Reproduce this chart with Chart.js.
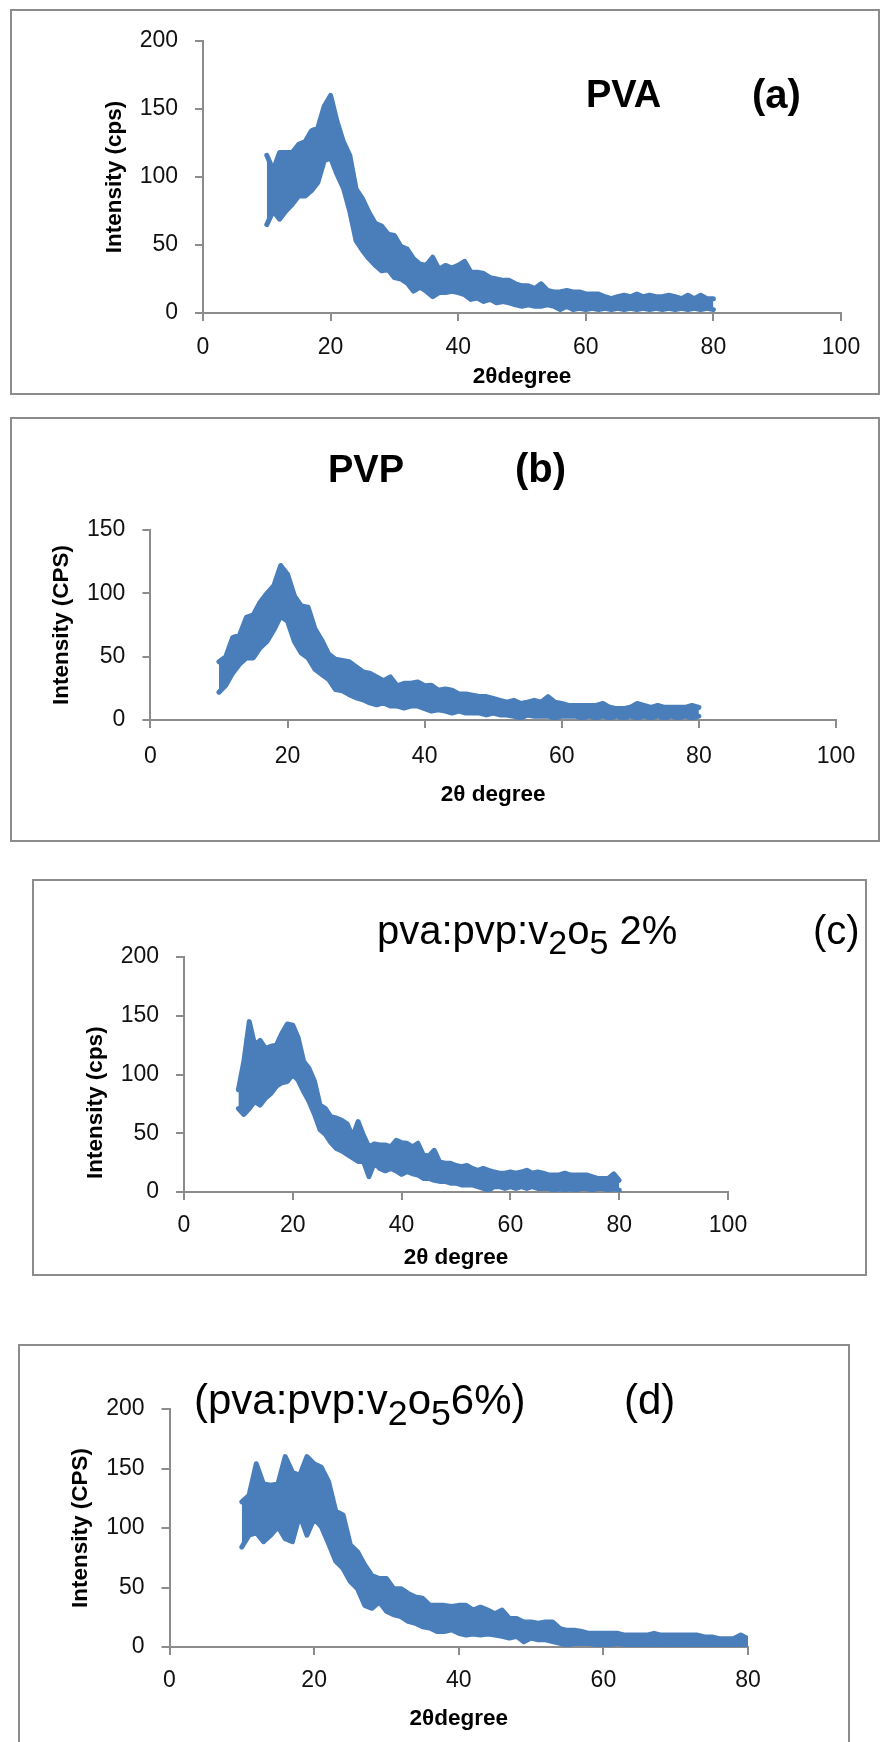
<!DOCTYPE html>
<html>
<head>
<meta charset="utf-8">
<title>XRD patterns</title>
<script src="https://cdn.jsdelivr.net/npm/chart.js@4.4.1/dist/chart.umd.min.js"></script>
<style>
  body { margin: 0; background: #fff; }
  .page { position: relative; width: 880px; height: 1742px; overflow: hidden; }
  .box { position: absolute; border: 2px solid #8c8c8c; box-sizing: border-box; }
  canvas { position: absolute; }
  .lbl { position: absolute; line-height: 1; white-space: nowrap; color: #000; }
  .bold { font-family: 'Liberation Sans', Arial, sans-serif; font-weight: bold; }
  .thin { font-family: 'Liberation Sans', Arial, sans-serif; }
  .lbl sub { font-size: 0.85em; vertical-align: -0.3em; line-height: 0; }
</style>
</head>
<body>
<div class="page">
  <!-- (a) PVA -->
  <div class="box" style="left:10px;top:9px;width:870px;height:386px"></div>
  <canvas id="chartA" width="870" height="386" style="left:10px;top:9px"></canvas>
  <div class="lbl bold" style="left:586px;top:75px;font-size:38px">PVA</div>
  <div class="lbl bold" style="left:752px;top:74px;font-size:40px">(a)</div>

  <!-- (b) PVP -->
  <div class="box" style="left:10px;top:417px;width:870px;height:425px"></div>
  <canvas id="chartB" width="870" height="425" style="left:10px;top:417px"></canvas>
  <div class="lbl bold" style="left:328px;top:450px;font-size:38px">PVP</div>
  <div class="lbl bold" style="left:515px;top:448px;font-size:40px">(b)</div>

  <!-- (c) pva:pvp:v2o5 2% -->
  <div class="box" style="left:32px;top:879px;width:835px;height:397px"></div>
  <canvas id="chartC" width="835" height="397" style="left:32px;top:879px"></canvas>
  <div class="lbl thin" style="left:377px;top:910px;font-size:40px">pva:pvp:v<sub>2</sub>o<sub>5</sub> 2%</div>
  <div class="lbl thin" style="left:813px;top:910px;font-size:40px">(c)</div>

  <!-- (d) pva:pvp:v2o5 6% -->
  <div class="box" style="left:18px;top:1344px;width:832px;height:420px"></div>
  <canvas id="chartD" width="832" height="398" style="left:18px;top:1344px"></canvas>
  <div class="lbl thin" style="left:194px;top:1379px;font-size:42px">(pva:pvp:v<sub>2</sub>o<sub>5</sub>6%)</div>
  <div class="lbl thin" style="left:624px;top:1379px;font-size:42px">(d)</div>
</div>

<script>
// 2theta positions (degrees) where the trace envelope was read
const twoTheta = [
  10, 11, 12, 13, 14, 15, 16, 17, 18, 19,
  20, 21, 22, 23, 24, 25, 26, 27, 28, 29,
  30, 31, 32, 33, 34, 35, 36, 37, 38, 39,
  40, 41, 42, 43, 44, 45, 46, 47, 48, 49,
  50, 51, 52, 53, 54, 55, 56, 57, 58, 59,
  60, 61, 62, 63, 64, 65, 66, 67, 68, 69,
  70, 71, 72, 73, 74, 75, 76, 77, 78, 79,
  80
];

// (a) PVA - upper and lower edge of the noisy trace (cps)
const pvaHigh = [
  116, 105, 118, 118, 118, 124, 126, 134, 136, 152,
  160, 141, 126, 116, 91, 84, 74, 66, 64, 58,
  57, 49, 47, 40, 36, 35, 41, 32, 35, 33,
  35, 38, 30, 30, 29, 26, 25, 24, 24, 21.5,
  20, 20, 18, 21.5, 16.5, 15.5, 15.5, 16.5, 15.5, 15.5,
  14, 14, 14, 12, 10.5, 12, 13, 12, 14, 12,
  13, 12, 12, 13, 12, 10.5, 13, 10.5, 13, 10.5,
  10.5
];
const pvaLow = [
  65, 75, 69, 75, 80, 86, 86, 90, 96, 112,
  114, 102, 92, 75, 53, 46, 40, 35, 31, 32,
  26, 25, 22, 16, 19, 16, 12, 15, 15, 16,
  15, 13.5, 10, 11, 8.5, 10, 7.5, 8.5, 7.5, 6,
  5, 6, 5, 5, 6, 5, 2.5, 5, 2.5, 3.5,
  2.5, 3.5, 2.5, 3.5, 2.5, 3.5, 2.5, 3.5, 2.5, 3.5,
  2.5, 3.5, 2.5, 3.5, 2.5, 3.5, 2.5, 3.5, 2.5, 3.5,
  2.5
];

// (b) PVP
const pvpHigh = [
  46, 50, 65, 67, 81, 83, 93, 100, 106, 122,
  115, 98, 90, 89, 72, 63, 52, 48, 47, 46,
  42, 38, 37, 34, 31, 34, 27, 29, 29, 30,
  27, 27.5, 23.5, 24.5, 23.5, 20.5, 20.5, 19.5, 18.5, 18.5,
  17, 15.5, 14, 15.5, 13, 14, 15.5, 14, 18.5, 14,
  13, 11.5, 11.5, 11.5, 11.5, 11.5, 13, 10, 9, 9,
  10, 13, 11.5, 10, 11.5, 10, 10, 10, 10, 11.5,
  10
];
const pvpLow = [
  22, 27.5, 37, 44, 49, 49, 57, 62, 71, 82,
  78, 62, 53, 49, 40, 36, 32, 24, 23, 20,
  17.5, 16, 13.5, 12, 13.5, 11, 11, 9.5, 11, 11,
  9, 7, 8, 7, 5.5, 7, 5.5, 5.5, 5.5, 4,
  5.5, 4, 4, 3, 1.5, 4, 3, 3, 3, 1.5,
  3, 3, 3, 1.5, 3, 1.5, 3, 1.5, 3, 1.5,
  3, 1.5, 3, 1.5, 3, 1.5, 3, 1.5, 3, 1.5,
  3
];

// (c) pva:pvp:v2o5 2%
const v2High = [
  87, 111, 145, 125, 129, 122, 124, 125, 135, 143,
  142, 131, 111, 105, 94, 74, 71, 64, 63, 61,
  58, 47, 60, 48, 38.5, 41, 40, 40, 38.5, 44,
  42, 41.5, 38.5, 41.5, 31.5, 30.5, 35.5, 25.5, 24.5, 24.5,
  22.5, 21.5, 22.5, 20, 18.5, 20, 18.5, 17, 16, 16,
  17, 16, 17, 18.5, 16, 17, 16, 14.5, 14.5, 14.5,
  16, 14.5, 14.5, 14.5, 14.5, 13, 11.5, 11.5, 11.5, 15.5,
  10
];
const v2Low = [
  71, 66, 71, 77, 74, 80, 84, 90, 93, 94,
  100, 95, 85.5, 77, 66, 53, 49, 42, 37, 35,
  32, 29, 26, 26, 13, 25, 20, 18, 20, 18,
  15, 17.5, 15.5, 14.5, 11.5, 11.5, 10, 9, 9, 7.5,
  7.5, 6, 6, 6, 4.5, 3, 1.5, 4.5, 4.5, 3,
  4.5, 3, 4.5, 3, 4.5, 3, 3, 3, 1.5, 3,
  1.5, 3, 1.5, 3, 3, 1.5, 3, 3, 1.5, 3,
  1.5
];

// (d) pva:pvp:v2o5 6%
const v6High = [
  122, 127.5, 154, 137, 136, 137, 160, 147, 144, 160,
  154, 151, 139, 114, 111, 86, 80, 69, 60, 57.5,
  57.5, 49, 49, 45, 42, 41, 35, 35, 35, 34,
  35, 35, 31, 33.5, 31, 28, 31, 24, 24, 21,
  21, 20, 21, 21, 15.5, 14, 14, 13, 11.5, 11.5,
  11.5, 11.5, 11.5, 10, 10, 10, 10, 11.5, 10, 10,
  10, 10, 10, 10, 8.5, 8.5, 7, 7, 7, 10,
  7
];
const v6Low = [
  84, 94, 96, 88.5, 94, 101, 91, 88.5, 111, 94,
  108, 101, 87, 72, 66, 55, 49, 35, 32.5, 38,
  30, 27, 25.5, 21.5, 20, 17, 16, 13, 13, 14.5,
  11.5, 10, 11, 10, 11, 10, 9, 7.5, 9, 4.5,
  7.5, 6, 6, 4.5, 3, 1.5, 3, 3, 3, 2,
  2, 2, 3, 2, 2, 2, 1.5, 2, 2, 1.5,
  2, 2, 1.5, 2, 2, 1.5, 2, 2, 1.5, 2,
  2
];

const lineBlue = '#4a7ebb';
const axisGray = '#8c8c8c';
const tickFont = { family: "'Liberation Sans', Arial, sans-serif", size: 23 };
const titleFont = { family: "'Liberation Sans', Arial, sans-serif", size: 22.5, weight: 'bold' };

function xrdChart(id, hi, lo, o) {
  const upper = twoTheta.map((x, i) => ({ x: x, y: hi[i] }));
  const lower = twoTheta.map((x, i) => ({ x: x, y: lo[i] }));
  return new Chart(document.getElementById(id), {
    type: 'line',
    data: {
      datasets: [{
        data: upper,
        borderColor: lineBlue,
        borderWidth: 5,
        borderJoinStyle: 'round',
        borderCapStyle: 'round',
        pointRadius: 0,
        tension: 0,
        fill: false
      }, {
        data: lower,
        borderColor: lineBlue,
        backgroundColor: lineBlue,
        borderWidth: 5,
        borderJoinStyle: 'round',
        borderCapStyle: 'round',
        pointRadius: 0,
        tension: 0,
        fill: '-1'
      }]
    },
    options: {
      responsive: false,
      animation: false,
      layout: { padding: o.pad },
      plugins: {
        legend: { display: false },
        tooltip: { enabled: false }
      },
      scales: {
        x: {
          type: 'linear',
          min: 0,
          max: o.xMax,
          ticks: { stepSize: 20, padding: o.xPad, font: tickFont, color: '#111', maxRotation: 0 },
          grid: { drawOnChartArea: false, drawTicks: true, tickLength: 8, color: axisGray, lineWidth: 2 },
          border: { display: true, color: axisGray, width: 2 },
          title: { display: true, text: o.xTitle, font: titleFont, color: '#000', padding: 0 },
          afterFit: s => { s.height = o.xH; }
        },
        y: {
          min: 0,
          max: o.yMax,
          ticks: { stepSize: 50, padding: 17, font: tickFont, color: '#111' },
          grid: { drawOnChartArea: false, drawTicks: true, tickLength: 8, color: axisGray, lineWidth: 2 },
          border: { display: true, color: axisGray, width: 2 },
          title: { display: true, text: o.yTitle, font: titleFont, color: '#000', padding: 0 },
          afterFit: s => { s.width = 102; }
        }
      }
    }
  });
}

xrdChart('chartA', pvaHigh, pvaLow, {
  xMax: 100, yMax: 200, xPad: 13, xH: 77.5,
  xTitle: '2θdegree', yTitle: 'Intensity (cps)',
  pad: { left: 91, top: 32, right: 39, bottom: 4.5 }
});
xrdChart('chartB', pvpHigh, pvpLow, {
  xMax: 100, yMax: 150, xPad: 15, xH: 88.5,
  xTitle: '2θ degree', yTitle: 'Intensity (CPS)',
  pad: { left: 38.4, top: 113, right: 44, bottom: 33.5 }
});
xrdChart('chartC', v2High, v2Low, {
  xMax: 100, yMax: 200, xPad: 12, xH: 79.5,
  xTitle: '2θ degree', yTitle: 'Intensity (cps)' + '\u00a0'.repeat(9),
  pad: { left: 50, top: 78, right: 139, bottom: 4.5 }
});
xrdChart('chartD', v6High, v6Low, {
  xMax: 80, yMax: 200, xPad: 12, xH: 85.5,
  xTitle: '2θdegree', yTitle: 'Intensity (CPS)',
  pad: { left: 49.5, top: 65, right: 102, bottom: 9.5 }
});
</script>
</body>
</html>
